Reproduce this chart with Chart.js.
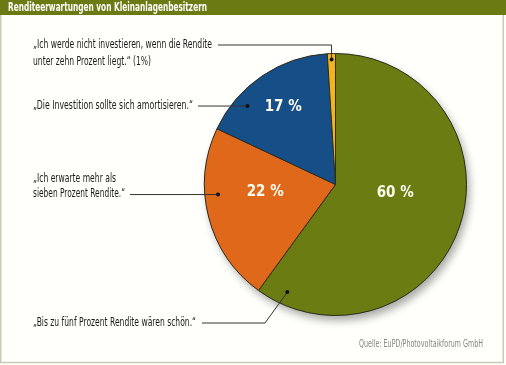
<!DOCTYPE html>
<html>
<head>
<meta charset="utf-8">
<script src="https://cdn.jsdelivr.net/npm/chart.js@4.4.1/dist/chart.umd.min.js"></script>
<style>
  html,body{margin:0;padding:0;background:#fff;}
  canvas{display:block;}
</style>
</head>
<body>
<canvas id="c" width="506" height="365"></canvas>
<script>
// ===== DATA =====
const titel = 'Renditeerwartungen von Kleinanlagenbesitzern';
const quelle = 'Quelle: EuPD/Photovoltaikforum GmbH';
const kategorien = [
  'Bis zu fünf Prozent Rendite wären schön.',
  'Ich erwarte mehr als sieben Prozent Rendite.',
  'Die Investition sollte sich amortisieren.',
  'Ich werde nicht investieren, wenn die Rendite unter zehn Prozent liegt.'
];
const anteile = [60, 22, 17, 1];
const farben = ['#6b7c12', '#e0681a', '#164f87', '#f0b41e'];
const zeigeProzent = [true, true, true, false];
const calloutTexte = [
  ['„Bis zu fünf Prozent Rendite wären schön.“'],
  ['„Ich erwarte mehr als', 'sieben Prozent Rendite.“'],
  ['„Die Investition sollte sich amortisieren.“'],
  ['„Ich werde nicht investieren, wenn die Rendite', 'unter zehn Prozent liegt.“ (1%)']
];

// ===== LAYOUT (Positionen, keine Daten) =====
const W = 506, H = 365;
const pctPos = [[0.454, 0.46], [0.6, 0.54], [0.5, 0.71], null]; // [winkelanteil, radiusanteil]
const dotPos = [[0.945, 0.9], [0.62, 0.9], [0.27, 0.9], [0.5, 0.955]];
const callLayout = [
  {x:33, ys:[323], ws:[163], start:[202,323], knick:[265,323]},
  {x:33, ys:[179,194], ws:[83,92], start:[130,null]},
  {x:33, ys:[106], ws:[160], start:[198,null]},
  {x:33, ys:[45,62], ws:[179,118], start:[218,45], knickV:true}
];

function punkt(arc, fa, fr){
  const p = arc.getProps(['x','y','startAngle','endAngle','outerRadius'], true);
  const a = p.startAngle + (p.endAngle - p.startAngle) * fa;
  return {x: p.x + Math.cos(a) * p.outerRadius * fr, y: p.y + Math.sin(a) * p.outerRadius * fr};
}

const deko = {
  id: 'deko',
  beforeDraw(c){
    const x = c.ctx;
    x.save();
    x.fillStyle = '#fffffb'; x.fillRect(0, 0, W, H);
    x.strokeStyle = '#c9ccb4'; x.lineWidth = 1.5;
    x.strokeRect(0.75, 14, 502.5, 348.5);
    x.fillStyle = '#6b7a12'; x.fillRect(0, 0, W, 15);
    x.fillStyle = '#fff';
    x.font = 'bold 13px "Liberation Sans Narrow", "DejaVu Sans Condensed", sans-serif';
    x.textBaseline = 'middle';
    x.fillText(titel, 8, 8, 199);
    x.restore();
  },
  beforeDatasetsDraw(c){
    const arc = c.getDatasetMeta(0).data[0];
    if (!arc) return;
    const p = arc.getProps(['x','y','outerRadius'], true);
    const x = c.ctx;
    x.save();
    x.shadowColor = 'rgba(0,0,0,0.35)';
    x.shadowBlur = 9; x.shadowOffsetX = 3; x.shadowOffsetY = 5;
    x.fillStyle = '#555';
    x.beginPath(); x.arc(p.x, p.y, p.outerRadius, 0, Math.PI * 2); x.fill();
    x.restore();
  },
  afterDatasetsDraw(c){
    const x = c.ctx;
    const arcs = c.getDatasetMeta(0).data;
    x.save();
    // Prozentwerte
    x.fillStyle = '#fffdf0';
    x.font = 'bold 15px "Liberation Sans Narrow", "DejaVu Sans Condensed", sans-serif';
    x.textAlign = 'center'; x.textBaseline = 'middle';
    anteile.forEach((v, i) => {
      if (!zeigeProzent[i] || !pctPos[i]) return;
      const q = punkt(arcs[i], pctPos[i][0], pctPos[i][1]);
      x.fillText(v + ' %', q.x, q.y);
    });
    // Beschriftungen + Linien
    x.textAlign = 'left';
    x.font = '12.5px "Liberation Sans Narrow", "DejaVu Sans Condensed", sans-serif';
    x.strokeStyle = '#333'; x.lineWidth = 1;
    calloutTexte.forEach((zeilen, i) => {
      const L = callLayout[i];
      x.fillStyle = '#1a1a1a';
      zeilen.forEach((t, k) => x.fillText(t, L.x, L.ys[k], L.ws[k]));
      const d = punkt(arcs[i], dotPos[i][0], dotPos[i][1]);
      x.beginPath();
      if (L.knick) {
        x.moveTo(L.start[0], L.start[1]); x.lineTo(L.knick[0], L.knick[1]); x.lineTo(d.x, d.y);
      } else if (L.knickV) {
        x.moveTo(L.start[0], L.start[1]); x.lineTo(d.x, L.start[1]); x.lineTo(d.x, d.y);
      } else {
        x.moveTo(L.start[0], d.y); x.lineTo(d.x, d.y);
      }
      x.stroke();
      x.fillStyle = '#111';
      x.beginPath(); x.arc(d.x, d.y, 2, 0, Math.PI * 2); x.fill();
    });
    // Quelle
    x.fillStyle = '#858585';
    x.font = '10.5px "Liberation Sans Narrow", "DejaVu Sans Condensed", sans-serif';
    x.textAlign = 'right';
    x.fillText(quelle, 483, 344, 124);
    x.restore();
  }
};

new Chart(document.getElementById('c').getContext('2d'), {
  type: 'pie',
  data: {
    labels: kategorien,
    datasets: [{
      data: anteile,
      backgroundColor: farben,
      borderColor: '#2e2e1e',
      borderWidth: 1
    }]
  },
  options: {
    responsive: false,
    animation: false,
    devicePixelRatio: 1,
    layout: {padding: {left: 204, right: 39, top: 53, bottom: 49}},
    plugins: {legend: {display: false}, tooltip: {enabled: false}, title: {display: false}}
  },
  plugins: [deko]
});
</script>
</body>
</html>
